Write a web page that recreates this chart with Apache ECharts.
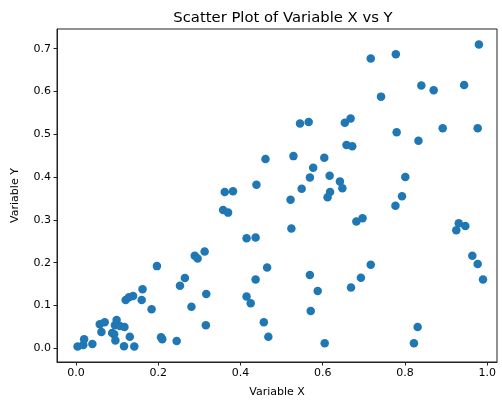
<!DOCTYPE html>
<html>
<head>
<meta charset="utf-8">
<script src="https://cdn.jsdelivr.net/npm/echarts@6/dist/echarts.min.js"></script>
<style>
  html, body { margin: 0; padding: 0; background: #fff; }
  #chart { width: 502px; height: 403px; }
</style>
</head>
<body>
<div id="chart"></div>
<script>
var xValues = [
  0.004, 0.020, 0.018, 0.040, 0.058, 0.070, 0.062, 0.088, 0.099, 0.095,
  0.107, 0.118, 0.093, 0.096, 0.131, 0.117, 0.142, 0.121, 0.129, 0.139,
  0.160, 0.162, 0.184, 0.197, 0.207, 0.210, 0.245, 0.253, 0.265, 0.281,
  0.289, 0.296, 0.313, 0.317, 0.316, 0.362, 0.382, 0.358, 0.370, 0.522,
  0.524, 0.549, 0.612, 0.618, 0.642, 0.648, 0.415, 0.437, 0.465, 0.437,
  0.415, 0.425, 0.569, 0.588, 0.571, 0.457, 0.468, 0.605, 0.777, 0.793,
  0.682, 0.697, 0.931, 0.947, 0.925, 0.964, 0.977, 0.990, 0.717, 0.693,
  0.669, 0.831, 0.822, 0.717, 0.778, 0.980, 0.840, 0.870, 0.944, 0.742,
  0.654, 0.668, 0.780, 0.833, 0.892, 0.977, 0.658, 0.672, 0.801, 0.545,
  0.566, 0.461, 0.529, 0.604, 0.577, 0.569, 0.617, 0.439
];
var yValues = [
  0.004, 0.021, 0.008, 0.010, 0.056, 0.061, 0.038, 0.036, 0.066, 0.054,
  0.052, 0.050, 0.033, 0.018, 0.027, 0.005, 0.004, 0.113, 0.119, 0.122,
  0.113, 0.138, 0.091, 0.192, 0.026, 0.021, 0.017, 0.146, 0.164, 0.097,
  0.216, 0.210, 0.226, 0.127, 0.054, 0.365, 0.367, 0.323, 0.317, 0.347,
  0.280, 0.373, 0.353, 0.365, 0.390, 0.374, 0.257, 0.259, 0.189, 0.161,
  0.121, 0.105, 0.171, 0.134, 0.087, 0.061, 0.027, 0.012, 0.333, 0.355,
  0.296, 0.304, 0.292, 0.286, 0.276, 0.216, 0.197, 0.161, 0.195, 0.165,
  0.142, 0.050, 0.012, 0.677, 0.687, 0.710, 0.614, 0.603, 0.615, 0.588,
  0.527, 0.537, 0.505, 0.485, 0.514, 0.514, 0.475, 0.472, 0.400, 0.525,
  0.529, 0.442, 0.449, 0.445, 0.422, 0.399, 0.403, 0.382
];
var xTicks = [0.0, 0.2, 0.4, 0.6, 0.8, 1.0];
var yTicks = [0.0, 0.1, 0.2, 0.3, 0.4, 0.5, 0.6, 0.7];

var points = [];
for (var i = 0; i < xValues.length; i++) {
  points.push([xValues[i], yValues[i]]);
}

var font = 'DejaVu Sans';
var chart = echarts.init(document.getElementById('chart'), null, { renderer: 'canvas' });

chart.setOption({
  animation: false,
  backgroundColor: '#fff',
  title: {
    text: 'Scatter Plot of Variable X vs Y',
    left: 278,
    top: 6,
    textAlign: 'center',
    textStyle: { fontFamily: font, fontSize: 14.8, fontWeight: 'normal', color: '#000' }
  },
  grid: {
    left: 57,
    right: 5,
    top: 29,
    bottom: 41,
    show: true,
    borderColor: '#222',
    borderWidth: 1,
    containLabel: false
  },
  xAxis: {
    type: 'value',
    min: -0.046,
    max: 1.024,
    name: 'Variable X',
    nameLocation: 'middle',
    nameGap: 25,
    nameTextStyle: { fontFamily: font, fontSize: 11, color: '#000' },
    axisLine: { show: true, onZero: false, lineStyle: { color: '#222', width: 1 } },
    axisTick: { show: true, length: 3.5, customValues: xTicks, lineStyle: { color: '#222' } },
    axisLabel: {
      customValues: xTicks,
      margin: 6,
      fontFamily: font,
      fontSize: 11,
      color: '#000',
      formatter: function(v) { return v.toFixed(1); }
    },
    splitLine: { show: false }
  },
  yAxis: {
    type: 'value',
    min: -0.032,
    max: 0.746,
    name: 'Variable Y',
    nameLocation: 'middle',
    nameGap: 36,
    nameRotate: 90,
    nameTextStyle: { fontFamily: font, fontSize: 11, color: '#000' },
    axisLine: { show: true, onZero: false, lineStyle: { color: '#222', width: 1 } },
    axisTick: { show: true, length: 3.5, customValues: yTicks, lineStyle: { color: '#222' } },
    axisLabel: {
      customValues: yTicks,
      margin: 6,
      fontFamily: font,
      fontSize: 11,
      color: '#000',
      formatter: function(v) { return v.toFixed(1); }
    },
    splitLine: { show: false }
  },
  series: [{
    type: 'scatter',
    data: points,
    symbol: 'circle',
    symbolSize: 8.5,
    itemStyle: { color: '#1f77b4', opacity: 1 }
  }]
});
</script>
</body>
</html>
